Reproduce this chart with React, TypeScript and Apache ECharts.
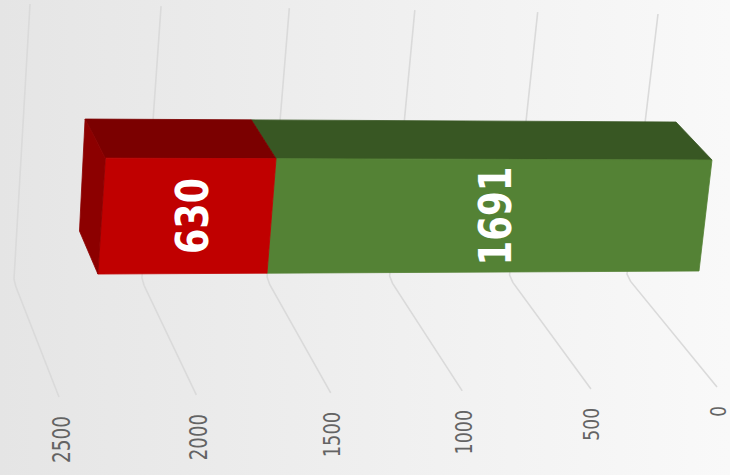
import React, { useEffect, useRef } from "react";
import * as echarts from "echarts";

const categories = ["Total"];
const greenValues = [1691];
const redValues = [630];
const tickValues = [0, 500, 1000, 1500, 2000, 2500];
const axisMax = 2500;

const WIDTH = 730;
const HEIGHT = 475;
const K = 0.055;

type Rail = { x0: number; len: number; y0: number; y1: number };
const rails: Record<string, Rail> = {
  gridTop: { x0: 658, len: 628, y0: 14, y1: 4 },
  gridBend: { x0: 627, len: 613, y0: 277, y1: 282 },
  gridBottom: { x0: 717, len: 658, y0: 387, y1: 397 },
  frontBottom: { x0: 699, len: 650, y0: 271, y1: 274.3 },
  frontTop: { x0: 712, len: 656, y0: 160, y1: 158 },
  backTop: { x0: 676, len: 639, y0: 122, y1: 118.8 },
  backBottom: { x0: 663, len: 631, y0: 234, y1: 230.8 },
};

// Perspective: the axis' own pixel position is pushed through a projective map onto a rail.
const depthOf = (api: any, value: number): number => {
  const px = api.coord([value, 0])[0];
  const s = (WIDTH - px) / WIDTH;
  return s / (1 + K * (1 - s));
};
const project = (api: any, value: number, rail: Rail): number[] => {
  const f = depthOf(api, value);
  return [rail.x0 - rail.len * f, rail.y0 + (rail.y1 - rail.y0) * f];
};

const renderTick = (_: any, api: any) => {
  const v = api.value(0);
  const top = project(api, v, rails.gridTop);
  const bend = project(api, v, rails.gridBend);
  const bottom = project(api, v, rails.gridBottom);
  const corner = [bend[0] + (bottom[0] - bend[0]) * 0.04, bend[1] + (bottom[1] - bend[1]) * 0.04];
  const f = depthOf(api, v);
  const size = 21 + 4 * f;
  return {
    type: "group",
    children: [
      {
        type: "polyline",
        shape: { points: [top, [bend[0], bend[1] - 3], corner, bottom] },
        style: { stroke: "#dadada", lineWidth: 1.6, fill: "none" },
      },
      {
        type: "text",
        x: bottom[0] + 1 + 1.5 * f,
        y: bottom[1] + 19,
        rotation: Math.PI / 2,
        scaleX: 0.8 - 0.06 * f,
        style: {
          text: String(v),
          x: 0,
          y: 0,
          align: "right",
          verticalAlign: "middle",
          font: `${size}px "DejaVu Sans"`,
          fill: "#636363",
        },
      },
    ],
  };
};

const renderSegment = (front: string, top: string, side: string | null) => (_: any, api: any) => {
  const a = api.value(0);
  const b = api.value(1);
  const fba = project(api, a, rails.frontBottom);
  const fbb = project(api, b, rails.frontBottom);
  const fta = project(api, a, rails.frontTop);
  const ftb = project(api, b, rails.frontTop);
  const bta = project(api, a, rails.backTop);
  const btb = project(api, b, rails.backTop);
  const bbb = project(api, b, rails.backBottom);
  const mid = (a + b) / 2;
  const c1 = project(api, mid, rails.frontTop);
  const c2 = project(api, mid, rails.frontBottom);
  const face = (points: number[][], fill: string) => ({
    type: "polygon",
    shape: { points },
    style: { fill, stroke: fill, lineWidth: 0.8 },
  });
  const children: any[] = [face([fta, ftb, btb, bta], top), face([fba, fbb, ftb, fta], front)];
  if (side) children.push(face([btb, ftb, fbb, bbb], side));
  children.push({
    type: "text",
    x: (c1[0] + c2[0]) / 2 + (side ? 5 : 3.5),
    y: 216,
    rotation: Math.PI / 2,
    scaleX: side ? 0.81 : 0.79,
    style: {
      text: String(b - a),
      x: 0,
      y: 0,
      align: "center",
      verticalAlign: "middle",
      font: 'bold 45px "DejaVu Sans"',
      fill: "#ffffff",
    },
  });
  return { type: "group", children };
};

export default function App() {
  const ref = useRef<HTMLDivElement>(null);
  useEffect(() => {
    document.body.style.margin = "0";
    const chart = echarts.init(ref.current!, undefined, { renderer: "svg" });
    chart.setOption({
      animation: false,
      backgroundColor: {
        type: "linear",
        x: 0,
        y: 0,
        x2: 1,
        y2: 0,
        colorStops: [
          { offset: 0, color: "#e5e5e5" },
          { offset: 0.5, color: "#efefef" },
          { offset: 1, color: "#f9f9f9" },
        ],
      },
      grid: { left: 0, right: 0, top: 0, bottom: 0 },
      xAxis: { type: "value", min: 0, max: axisMax, interval: 500, inverse: true, show: false },
      yAxis: { type: "category", data: categories, show: false },
      series: [
        {
          type: "custom",
          clip: false,
          silent: true,
          encode: { x: 0 },
          data: tickValues.map((v) => [v]),
          renderItem: renderTick,
        },
        {
          type: "custom",
          clip: false,
          silent: true,
          encode: { x: [0, 1] },
          data: [[0, greenValues[0]]],
          renderItem: renderSegment("#548235", "#385723", null),
        },
        {
          type: "custom",
          clip: false,
          silent: true,
          encode: { x: [0, 1] },
          data: [[greenValues[0], greenValues[0] + redValues[0]]],
          renderItem: renderSegment("#c00000", "#7b0000", "#8c0000"),
        },
      ],
    });
    return () => chart.dispose();
  }, []);
  return <div ref={ref} style={{ width: WIDTH, height: HEIGHT }} />;
}
